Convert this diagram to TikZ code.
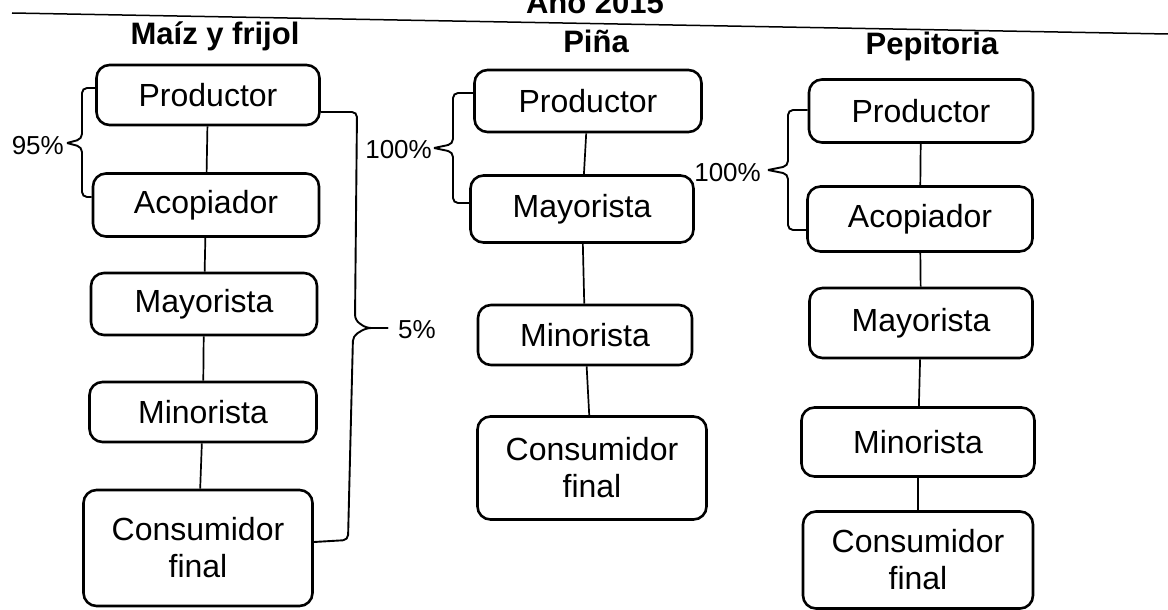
\documentclass[tikz,border=0pt]{standalone}
\usepackage{fontspec}
\setmainfont{Liberation Sans}
\usetikzlibrary{calc}
\begin{document}
\begin{tikzpicture}[x=1pt,y=-1pt,
  box/.style={draw, line width=2.6pt, rounded corners=13pt, inner sep=0pt, align=center, font=\fontsize{32}{37}\selectfont},
  ttl/.style={font=\fontsize{31}{36}\selectfont\bfseries, inner sep=0pt},
  pct/.style={font=\fontsize{26}{30}\selectfont, inner sep=0pt},
  link/.style={line width=1.7pt},
  brc/.style={line width=1.9pt, rounded corners=5pt}]
\useasboundingbox (0,0) rectangle (1168,610);

% header
\node[ttl, anchor=base] (T0) at (595,14) {Año 2015};
\coordinate (r1) at (12,13);
\coordinate (r2) at (1168,34);
\draw[line width=1.5pt] (r1) -- (r2);
\node[ttl, anchor=base] (T1) at (215,45) {Maíz y frijol};
\node[ttl, anchor=base] (T2) at (596,53) {Piña};
\node[ttl, anchor=base] (T3) at (932,55) {Pepitoria};

% column 1
\node[box, minimum width=223pt, minimum height=60pt] (P1) at (208,95) {Productor};
\node[box, minimum width=226pt, minimum height=63pt] (A1) at (206,205) {Acopiador};
\node[box, minimum width=226pt, minimum height=62pt] (M1) at (204,304) {Mayorista};
\node[box, minimum width=227pt, minimum height=60pt] (N1) at (203,412) {Minorista};
\node[box, minimum width=229pt, minimum height=116pt] (C1) at (198,548) {Consumidor\\final};
\draw[link] (P1) -- (A1);
\draw[link] (A1) -- (M1);
\draw[link] (M1) -- (N1);
\draw[link] (N1) -- (C1);

% column 2
\node[box, minimum width=227pt, minimum height=62pt] (P2) at (588,101) {Productor};
\node[box, minimum width=223pt, minimum height=67pt] (M2) at (582,209) {Mayorista};
\node[box, minimum width=214pt, minimum height=60pt] (N2) at (585,335) {Minorista};
\node[box, minimum width=229pt, minimum height=103pt] (C2) at (592,468) {Consumidor\\final};
\draw[link] (P2) -- (M2);
\draw[link] (M2) -- (N2);
\draw[link] (N2) -- (C2);

% column 3
\node[box, minimum width=224pt, minimum height=63pt] (P3) at (921,111) {Productor};
\node[box, minimum width=225pt, minimum height=65pt] (A3) at (920,219) {Acopiador};
\node[box, minimum width=223pt, minimum height=70pt] (M3) at (921,323) {Mayorista};
\node[box, minimum width=233pt, minimum height=69pt] (N3) at (918,442) {Minorista};
\node[box, minimum width=230pt, minimum height=97pt] (C3) at (918,560) {Consumidor\\final};
\draw[link] (P3) -- (A3);
\draw[link] (A3) -- (M3);
\draw[link] (M3) -- (N3);
\draw[link] (N3) -- (C3);

% brace 95%
\coordinate (k1) at (67,143);
\draw[brc] ([yshift=7pt]P1.west) -- (82,88) -- (82,139) -- (k1);
\draw[brc] (k1) -- (82,147) -- (82,197) -- ([yshift=8pt]A1.west);
\node[pct, anchor=east] (L1) at (64,146) {95\%};

% brace 5%
\coordinate (k2) at (388,328);
\draw[brc] ([yshift=-17pt]P1.east) -- (357,112) -- (355,320) -- (366,328) -- (k2);
\draw[brc] (k2) -- (366,328) -- (353,336) -- (348,540) -- ([yshift=6pt]C1.east);
\node[pct, anchor=west] (L2) at (398,330) {5\%};

% brace 100% (Piña)
\coordinate (k3) at (434,148);
\draw[brc] ([yshift=8pt]P2.west) -- (453,93) -- (453,144) -- (k3);
\draw[brc] (k3) -- (453,152) -- (453,203) -- ([yshift=6pt]M2.west);
\node[pct, anchor=east] (L3) at (432,150) {100\%};

% brace 100% (Pepitoria)
\coordinate (k4) at (768,170);
\draw[brc] ([yshift=1pt]P3.west) -- (788,110) -- (788,166) -- (k4);
\draw[brc] (k4) -- (788,174) -- (788,230) -- ([yshift=-11pt]A3.west);
\node[pct, anchor=east] (L4) at (761,173) {100\%};
\end{tikzpicture}
\end{document}
